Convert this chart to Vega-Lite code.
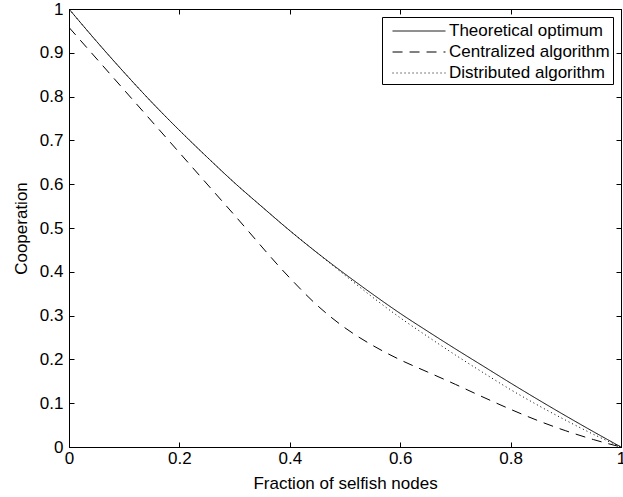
{
  "$schema": "https://vega.github.io/schema/vega-lite/v6.json",
  "width": 552,
  "height": 438,
  "autosize": {"type": "none"},
  "padding": {"left": 69, "top": 9, "right": 2, "bottom": 50},
  "background": "white",
  "config": {
    "view": {"stroke": "black", "strokeWidth": 1},
    "font": "Liberation Sans",
    "axis": {
      "domainColor": "black",
      "domainWidth": 1,
      "tickColor": "black",
      "tickWidth": 1,
      "tickSize": -5,
      "labelColor": "black",
      "labelFont": "Liberation Sans",
      "labelFontSize": 17,
      "titleFont": "Liberation Sans",
      "titleFontSize": 17,
      "titleFontWeight": "normal",
      "titleColor": "black",
      "grid": false,
      "labelFlush": false,
      "labelOverlap": false
    }
  },
  "datasets": {
    "curves": [
      {"x": 0, "y": 1, "series": "Theoretical optimum"},
      {"x": 0.05, "y": 0.926, "series": "Theoretical optimum"},
      {"x": 0.1, "y": 0.855, "series": "Theoretical optimum"},
      {"x": 0.15, "y": 0.787, "series": "Theoretical optimum"},
      {"x": 0.2, "y": 0.723, "series": "Theoretical optimum"},
      {"x": 0.25, "y": 0.662, "series": "Theoretical optimum"},
      {"x": 0.3, "y": 0.603, "series": "Theoretical optimum"},
      {"x": 0.35, "y": 0.548, "series": "Theoretical optimum"},
      {"x": 0.4, "y": 0.494, "series": "Theoretical optimum"},
      {"x": 0.45, "y": 0.443, "series": "Theoretical optimum"},
      {"x": 0.5, "y": 0.395, "series": "Theoretical optimum"},
      {"x": 0.55, "y": 0.349, "series": "Theoretical optimum"},
      {"x": 0.6, "y": 0.305, "series": "Theoretical optimum"},
      {"x": 0.65, "y": 0.264, "series": "Theoretical optimum"},
      {"x": 0.7, "y": 0.224, "series": "Theoretical optimum"},
      {"x": 0.75, "y": 0.185, "series": "Theoretical optimum"},
      {"x": 0.8, "y": 0.146, "series": "Theoretical optimum"},
      {"x": 0.85, "y": 0.108, "series": "Theoretical optimum"},
      {"x": 0.9, "y": 0.071, "series": "Theoretical optimum"},
      {"x": 0.95, "y": 0.035, "series": "Theoretical optimum"},
      {"x": 1, "y": 0, "series": "Theoretical optimum"},
      {"x": 0, "y": 0.958, "series": "Centralized algorithm"},
      {"x": 0.1, "y": 0.815, "series": "Centralized algorithm"},
      {"x": 0.2, "y": 0.672, "series": "Centralized algorithm"},
      {"x": 0.3, "y": 0.529, "series": "Centralized algorithm"},
      {"x": 0.4, "y": 0.386, "series": "Centralized algorithm"},
      {"x": 0.45, "y": 0.323, "series": "Centralized algorithm"},
      {"x": 0.5, "y": 0.272, "series": "Centralized algorithm"},
      {"x": 0.55, "y": 0.232, "series": "Centralized algorithm"},
      {"x": 0.6, "y": 0.199, "series": "Centralized algorithm"},
      {"x": 0.65, "y": 0.171, "series": "Centralized algorithm"},
      {"x": 0.7, "y": 0.143, "series": "Centralized algorithm"},
      {"x": 0.75, "y": 0.114, "series": "Centralized algorithm"},
      {"x": 0.8, "y": 0.086, "series": "Centralized algorithm"},
      {"x": 0.85, "y": 0.06, "series": "Centralized algorithm"},
      {"x": 0.9, "y": 0.037, "series": "Centralized algorithm"},
      {"x": 0.95, "y": 0.017, "series": "Centralized algorithm"},
      {"x": 1, "y": 0, "series": "Centralized algorithm"},
      {"x": 0, "y": 1, "series": "Distributed algorithm"},
      {"x": 0.05, "y": 0.926, "series": "Distributed algorithm"},
      {"x": 0.1, "y": 0.855, "series": "Distributed algorithm"},
      {"x": 0.15, "y": 0.787, "series": "Distributed algorithm"},
      {"x": 0.2, "y": 0.723, "series": "Distributed algorithm"},
      {"x": 0.25, "y": 0.662, "series": "Distributed algorithm"},
      {"x": 0.3, "y": 0.603, "series": "Distributed algorithm"},
      {"x": 0.35, "y": 0.548, "series": "Distributed algorithm"},
      {"x": 0.4, "y": 0.494, "series": "Distributed algorithm"},
      {"x": 0.45, "y": 0.443, "series": "Distributed algorithm"},
      {"x": 0.5, "y": 0.392, "series": "Distributed algorithm"},
      {"x": 0.55, "y": 0.342, "series": "Distributed algorithm"},
      {"x": 0.6, "y": 0.295, "series": "Distributed algorithm"},
      {"x": 0.65, "y": 0.252, "series": "Distributed algorithm"},
      {"x": 0.7, "y": 0.21, "series": "Distributed algorithm"},
      {"x": 0.75, "y": 0.17, "series": "Distributed algorithm"},
      {"x": 0.8, "y": 0.131, "series": "Distributed algorithm"},
      {"x": 0.85, "y": 0.095, "series": "Distributed algorithm"},
      {"x": 0.9, "y": 0.061, "series": "Distributed algorithm"},
      {"x": 0.95, "y": 0.029, "series": "Distributed algorithm"},
      {"x": 1, "y": 0, "series": "Distributed algorithm"}
    ]
  },
  "data": {"name": "curves"},
  "layer": [
    {
      "mark": {"type": "line", "interpolate": "monotone", "strokeWidth": 1, "color": "black", "clip": true},
      "encoding": {
        "x": {
          "field": "x", "type": "quantitative",
          "scale": {"domain": [0, 1], "nice": false, "zero": false},
          "axis": {"orient": "bottom", "title": "Fraction of selfish nodes", "values": [0, 0.2, 0.4, 0.6, 0.8, 1], "format": "~g", "labelPadding": 8, "titlePadding": 9}
        },
        "y": {
          "field": "y", "type": "quantitative",
          "scale": {"domain": [0, 1], "nice": false},
          "axis": {"orient": "left", "title": "Cooperation", "values": [0, 0.1, 0.2, 0.3, 0.4, 0.5, 0.6, 0.7, 0.8, 0.9, 1], "format": "~g", "labelPadding": 11, "titlePadding": 9}
        },
        "strokeDash": {
          "field": "series", "type": "nominal",
          "scale": {
            "domain": ["Theoretical optimum", "Centralized algorithm", "Distributed algorithm"],
            "range": [[1, 0], [10, 7], [1, 3]]
          },
          "legend": {
            "title": null,
            "orient": "top-right",
            "offset": 8,
            "strokeColor": "black",
            "fillColor": "white",
            "padding": 3,
            "cornerRadius": 0,
            "symbolType": "M-0.33,0H4.71",
            "symbolSize": 441,
            "symbolStrokeColor": "black",
            "symbolStrokeWidth": 1,
            "labelFont": "Liberation Sans",
            "labelFontSize": 17,
            "labelColor": "black",
            "labelLimit": 300,
            "labelOffset": 42,
            "rowPadding": 2
          }
        }
      }
    },
    {
      "mark": {"type": "line", "opacity": 0},
      "encoding": {
        "x": {
          "field": "x", "type": "quantitative",
          "scale": {"domain": [0, 1], "nice": false, "zero": false},
          "axis": {"orient": "top", "title": null, "labels": false, "values": [0, 0.2, 0.4, 0.6, 0.8, 1]}
        },
        "y": {
          "field": "y", "type": "quantitative",
          "scale": {"domain": [0, 1], "nice": false},
          "axis": {"orient": "right", "title": null, "labels": false, "values": [0, 0.1, 0.2, 0.3, 0.4, 0.5, 0.6, 0.7, 0.8, 0.9, 1]}
        },
        "detail": {"field": "series", "type": "nominal"}
      }
    }
  ],
  "resolve": {"scale": {"x": "independent", "y": "independent"}, "axis": {"x": "independent", "y": "independent"}}
}
